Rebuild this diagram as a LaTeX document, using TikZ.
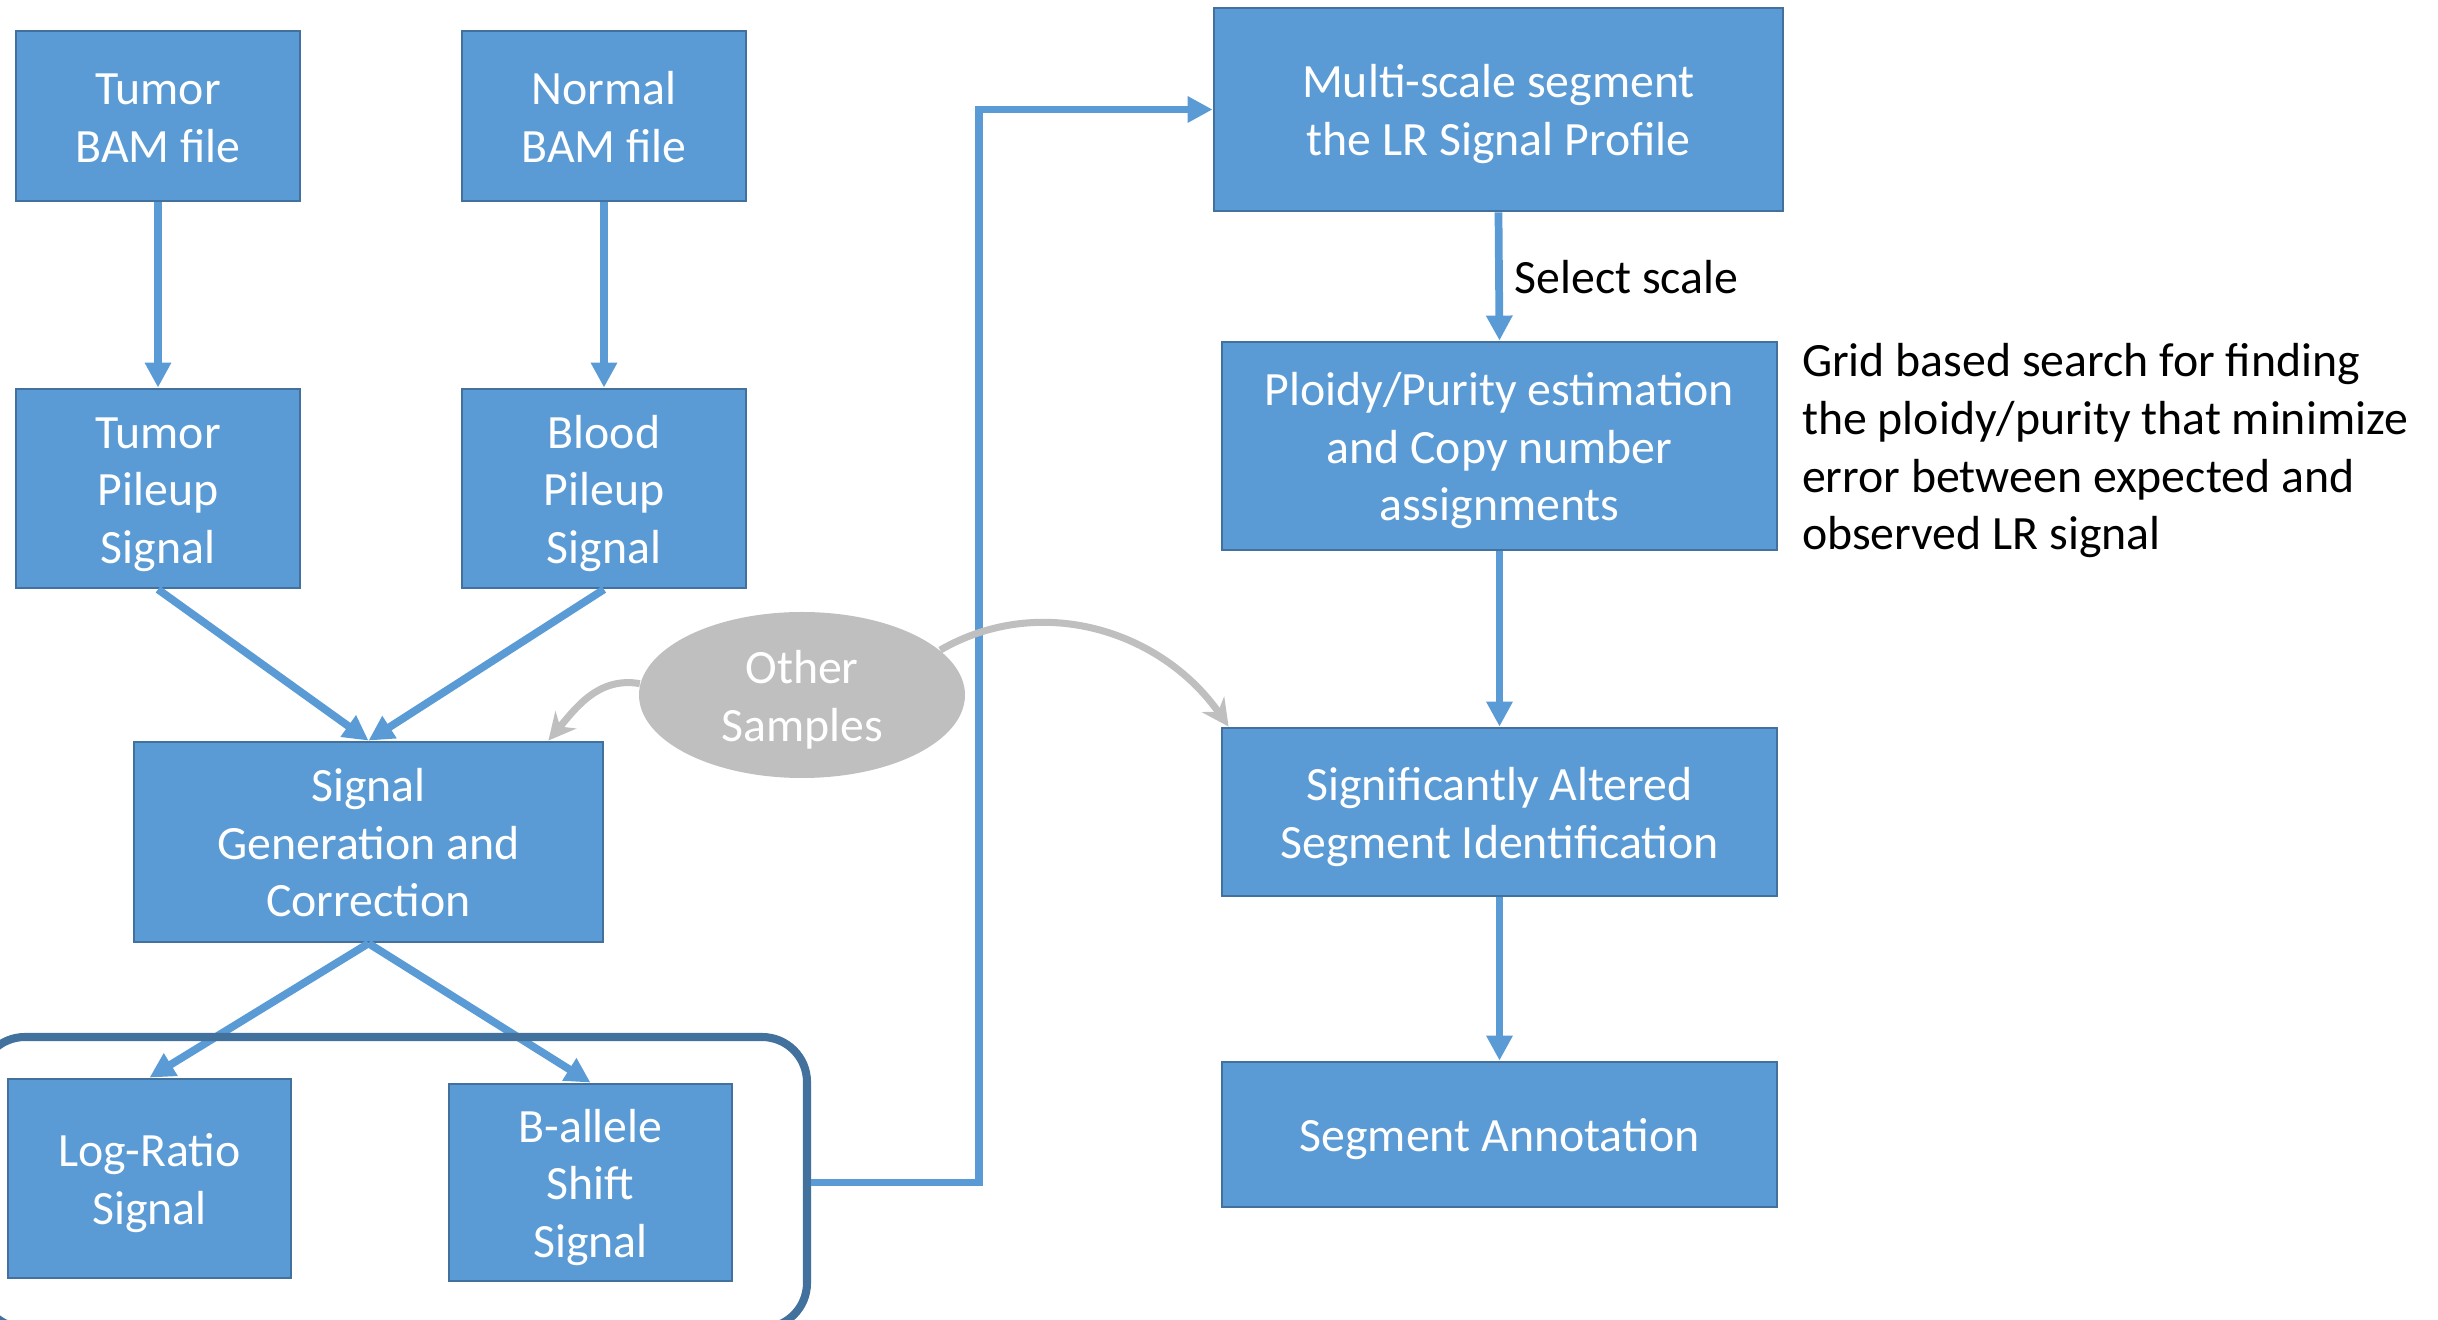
\documentclass[tikz,border=0pt]{standalone}
\usepackage{fontspec}
\setmainfont{Carlito}
\usetikzlibrary{arrows.meta,positioning,shapes.geometric}
\definecolor{boxblue}{HTML}{5B9BD5}
\definecolor{boxedge}{HTML}{41719C}
\definecolor{groupedge}{HTML}{41719C}
\definecolor{othergray}{HTML}{BFBFBF}
% first line of a node as tall as a full line
\newcommand{\tstrut}{\rule{0pt}{13.3pt}}

\begin{document}
\begin{tikzpicture}[>={Triangle[length=0.25cm,width=0.25cm]}, node distance=4.46cm,
    every node/.style={font=\fontsize{13.6}{16.4}\selectfont,
      execute at end node={\rule[-3.5pt]{0pt}{3.5pt}}},
    stage/.style={draw=boxedge, line width=0.8pt, fill=boxblue, text=white, align=center, inner sep=0pt},
    flow/.style={->, draw=boxblue, line width=2.2pt},
    back/.style={-{Stealth[length=0.27cm,width=0.27cm]}, draw=othergray, line width=2pt},
    group/.style={draw=groupedge, line width=2.3pt, rounded corners=0.45cm}]
    \useasboundingbox (0,0) rectangle (24.38,-13.2);

    % left column
    \node (tbam) [stage, minimum width=2.84cm, minimum height=1.70cm] at (1.58,-1.16) {\tstrut Tumor\\BAM file};
    \node (nbam) [stage, minimum width=2.84cm, minimum height=1.70cm, right of=tbam] {\tstrut Normal\\BAM file};
    \node (tpile) [stage, minimum width=2.84cm, minimum height=1.99cm, below of=tbam, yshift=0.735cm] {\tstrut Tumor\\Pileup\\Signal};
    \node (bpile) [stage, minimum width=2.84cm, minimum height=1.99cm, right of=tpile] {\tstrut Blood\\Pileup\\Signal};
    \node (siggen) [stage, minimum width=4.69cm, minimum height=2.00cm] at (3.685,-8.42) {\tstrut Signal\\Generation and\\Correction};
    \node (lr) [stage, minimum width=2.83cm, minimum height=1.99cm] at (1.495,-11.785) {\tstrut Log-Ratio\\Signal};
    \node (baf) [stage, minimum width=2.83cm, minimum height=1.97cm] at (5.905,-11.825) {\tstrut B-allele\\Shift\\Signal};
    \node (other) [ellipse, fill=othergray, text=white, align=center, inner sep=0pt, minimum width=3.26cm, minimum height=1.66cm] at (8.02,-6.95) {\tstrut Other\\Samples};

    % right column
    \node (mseg) [stage, minimum width=5.69cm, minimum height=2.03cm] at (14.985,-1.095) {\tstrut Multi-scale segment\\the LR Signal Profile};
    \node (ploidy) [stage, minimum width=5.55cm, minimum height=2.08cm] at (14.995,-4.46) {\tstrut Ploidy/Purity estimation\\and Copy number\\assignments};
    \node (sigalt) [stage, minimum width=5.55cm, minimum height=1.68cm] at (14.995,-8.12) {\tstrut Significantly Altered\\Segment Identification};
    \node (segann) [stage, minimum width=5.55cm, minimum height=1.45cm] at (14.995,-11.345) {\tstrut Segment Annotation};
    \node (note) [right=0.23cm of ploidy, align=left, inner sep=0pt] {\tstrut Grid based search for finding\\the ploidy/purity that minimize\\error between expected and\\observed LR signal};

    \draw[flow] (tbam.south) -- (tpile.north);
    \draw[flow] (nbam.south) -- (bpile.north);
    \draw[flow] (tpile.south) -- (siggen.north);
    \draw[flow] (bpile.south) -- (siggen.north);
    \draw[flow] (siggen.south) -- (lr.north);
    \draw[flow] (siggen.south) -- (baf.north);

    \node (sigbox) [group, minimum width=8.27cm, minimum height=2.91cm] at (3.935,-11.825) {};
    \draw[flow] (sigbox.east) -- ++(1.68,0) |- (mseg.west);

    \draw[flow] (mseg.south) -- node[right] {\tstrut Select scale} (ploidy.north);
    \draw[flow] (ploidy.south) -- (sigalt.north);
    \draw[flow] (sigalt.south) -- (segann.north);

    \draw[back] (other.176) to[out=170, in=50] ([xshift=-0.56cm]siggen.north east);
    \draw[back] (other.18) to[out=30, in=125] ([xshift=0.08cm]sigalt.north west);
\end{tikzpicture}
\end{document}
